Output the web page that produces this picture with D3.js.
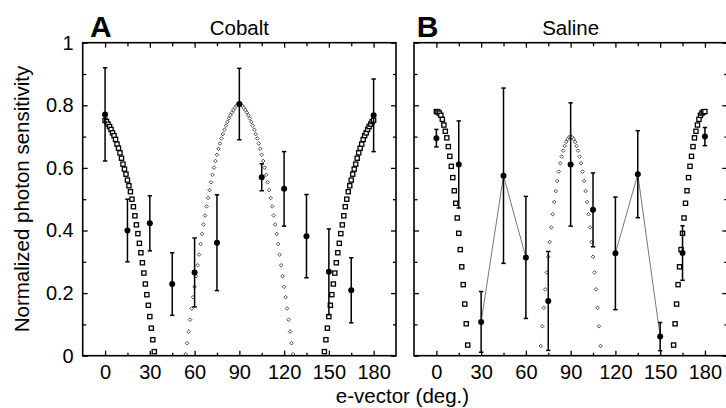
<!DOCTYPE html>
<html>
<head>
<meta charset="utf-8">
<script src="https://cdn.jsdelivr.net/npm/d3@7"></script>
<style>
  html, body { margin: 0; padding: 0; background: #fff; }
  svg { display: block; font-family: "Liberation Sans", Arial, Helvetica, sans-serif; }
</style>
</head>
<body>
<svg id="chart" width="726" height="408"></svg>
<script>
// ---------- data ----------
const angleLabels = [0, 30, 60, 90, 120, 150, 180];
const angleMinor = [15, 45, 75, 105, 135, 165];
const yMajor = [0, 0.2, 0.4, 0.6, 0.8, 1];
const yMinor = [0.1, 0.3, 0.5, 0.7, 0.9];
const yTickLabels = ["0", "0.2", "0.4", "0.6", "0.8", "1"];

const stimAngles = [0, 15, 30, 45, 60, 75, 90, 105, 120, 135, 150, 165, 180];

// Cobalt (panel A) measured sensitivity
const cobaltMean = [0.771, 0.400, 0.423, 0.229, 0.266, 0.361, 0.804, 0.570, 0.533, 0.382, 0.268, 0.209, 0.768];
const cobaltErr  = [0.149, 0.100, 0.088, 0.100, 0.110, 0.153, 0.114, 0.043, 0.119, 0.133, 0.137, 0.104, 0.116];

// Saline (panel B) measured sensitivity
const salineMean = [0.695, 0.611, 0.108, 0.575, 0.314, 0.175, 0.611, 0.466, 0.327, 0.580, 0.061, 0.328, 0.700];
const salineErr  = [0.028, 0.139, 0.097, 0.280, 0.195, 0.158, 0.197, 0.118, 0.180, 0.139, 0.045, 0.087, 0.029];
const salineLinks = [[30, 45, 60], [120, 135, 150]];

// Cobalt model: squares
const cobaltSqLeftAngles = [0,1,2,3,4,5,6,7,8,9,10,11,12,13,14,15,16,17,18,19,20,21,22,23,24,25,26,27,28,29,30,31,32,33];
const cobaltSqLeftValues = [0.752,0.748,0.740,0.732,0.723,0.712,0.703,0.691,0.676,0.663,0.648,0.631,0.612,0.596,0.580,0.561,0.543,0.524,0.500,0.476,0.447,0.418,0.390,0.359,0.329,0.297,0.264,0.229,0.195,0.161,0.125,0.088,0.051,0.013];
const cobaltSqRightAngles = [147,148,149,150,151,152,153,154,155,156,157,158,159,160,161,162,163,164,165,166,167,168,169,170,171,172,173,174,175,176,177,178,179,180];
const cobaltSqRightValues = [0.013,0.051,0.088,0.125,0.161,0.195,0.229,0.264,0.297,0.329,0.359,0.390,0.418,0.447,0.476,0.500,0.524,0.543,0.561,0.580,0.596,0.612,0.631,0.648,0.663,0.676,0.691,0.703,0.712,0.723,0.732,0.740,0.748,0.752];

// Cobalt model: diamonds
const cobaltDiaAngles = [54,55,56,57,58,59,60,61,62,63,64,65,66,67,68,69,70,71,72,73,74,75,76,77,78,79,80,81,82,83,84,85,86,87,88,89,90,91,92,93,94,95,96,97,98,99,100,101,102,103,104,105,106,107,108,109,110,111,112,113,114,115,116,117,118,119,120,121,122,123,124,125,126];
const cobaltDiaValues = [0.005,0.040,0.077,0.115,0.151,0.187,0.220,0.254,0.289,0.323,0.357,0.389,0.419,0.448,0.477,0.504,0.529,0.554,0.578,0.601,0.622,0.642,0.661,0.678,0.694,0.708,0.722,0.735,0.747,0.758,0.768,0.777,0.785,0.792,0.798,0.803,0.806,0.803,0.798,0.792,0.785,0.777,0.768,0.758,0.747,0.735,0.722,0.708,0.694,0.678,0.661,0.642,0.622,0.601,0.578,0.554,0.529,0.504,0.477,0.448,0.419,0.389,0.357,0.323,0.289,0.254,0.220,0.187,0.151,0.115,0.077,0.040,0.005];

// Saline model: squares
const salineSqLeftAngles = [0,1,2,3,4,5,6,7,8,9,10,11,12,13,14,15,16,17,18,19,20,21];
const salineSqLeftValues = [0.780,0.779,0.775,0.768,0.755,0.737,0.717,0.696,0.668,0.637,0.605,0.569,0.527,0.487,0.440,0.391,0.339,0.284,0.227,0.165,0.102,0.034];
const salineSqRightAngles = [159,160,161,162,163,164,165,166,167,168,169,170,171,172,173,174,175,176,177,178,179,180];
const salineSqRightValues = [0.034,0.102,0.165,0.227,0.284,0.339,0.391,0.440,0.487,0.527,0.569,0.605,0.637,0.668,0.696,0.717,0.737,0.755,0.768,0.775,0.779,0.780];

// Saline model: diamonds
const salineDiaAngles = [70,71,72,73,74,75,76,77,78,79,80,81,82,83,84,85,86,87,88,89,90,91,92,93,94,95,96,97,98,99,100,101,102,103,104,105,106,107,108,109,110];
const salineDiaValues = [0.031,0.094,0.153,0.212,0.266,0.316,0.363,0.410,0.452,0.491,0.526,0.558,0.588,0.615,0.636,0.655,0.670,0.683,0.692,0.698,0.700,0.698,0.692,0.683,0.670,0.655,0.636,0.615,0.588,0.558,0.526,0.491,0.452,0.410,0.363,0.316,0.266,0.212,0.153,0.094,0.031];

// ---------- layout ----------
const svg = d3.select("#chart");
const yTop = 42.7, yBot = 355.7;
const y = d3.scaleLinear().domain([0, 1]).range([yBot, yTop]);

const panels = [
  { key: "A", title: "Cobalt", x0: 82.7, x1: 396, letterX: 90, showY: true,
    mean: cobaltMean, err: cobaltErr, links: [],
    squares: [[cobaltSqLeftAngles, cobaltSqLeftValues], [cobaltSqRightAngles, cobaltSqRightValues]],
    diamonds: [[cobaltDiaAngles, cobaltDiaValues]] },
  { key: "B", title: "Saline", x0: 414, x1: 727.3, letterX: 416.7, showY: false,
    mean: salineMean, err: salineErr, links: salineLinks,
    squares: [[salineSqLeftAngles, salineSqLeftValues], [salineSqRightAngles, salineSqRightValues]],
    diamonds: [[salineDiaAngles, salineDiaValues]] }
];

const fontTick = 20;

panels.forEach(p => {
  const x = d3.scaleLinear().domain([-15, 195]).range([p.x0, p.x1]);
  const g = svg.append("g");

  // model squares
  p.squares.forEach(([angs, vals]) => {
    g.append("g").selectAll("rect").data(angs.map((a, i) => [a, vals[i]])).join("rect")
      .attr("x", d => x(d[0]) - 2.1).attr("y", d => y(d[1]) - 2.1)
      .attr("width", 4.2).attr("height", 4.2)
      .attr("fill", "#fff").attr("stroke", "#000").attr("stroke-width", 1.3);
  });
  // model diamonds
  p.diamonds.forEach(([angs, vals]) => {
    g.append("g").selectAll("path").data(angs.map((a, i) => [a, vals[i]])).join("path")
      .attr("d", d => {
        const cx = x(d[0]), cy = y(d[1]), r = 1.8;
        return `M${cx},${cy - r}L${cx + r},${cy}L${cx},${cy + r}L${cx - r},${cy}Z`;
      })
      .attr("fill", "#fff").attr("stroke", "#333").attr("stroke-width", 0.85);
  });

  // connecting lines
  p.links.forEach(grp => {
    const pts = grp.map(a => [a, p.mean[stimAngles.indexOf(a)]]);
    g.append("path")
      .attr("d", d3.line().x(d => x(d[0])).y(d => y(d[1]))(pts))
      .attr("fill", "none").attr("stroke", "#777").attr("stroke-width", 1);
  });

  // error bars
  const eb = g.append("g").attr("stroke", "#000").attr("stroke-width", 1.5);
  stimAngles.forEach((a, i) => {
    const m = p.mean[i], e = p.err[i];
    const cx = x(a);
    eb.append("line").attr("x1", cx).attr("x2", cx).attr("y1", y(m + e)).attr("y2", y(Math.max(0, m - e)));
    eb.append("line").attr("x1", cx - 2.2).attr("x2", cx + 2.2).attr("y1", y(m + e)).attr("y2", y(m + e));
    eb.append("line").attr("x1", cx - 2.2).attr("x2", cx + 2.2).attr("y1", y(Math.max(0, m - e))).attr("y2", y(Math.max(0, m - e)));
  });
  // points
  g.append("g").selectAll("circle").data(stimAngles.map((a, i) => [a, p.mean[i]])).join("circle")
    .attr("cx", d => x(d[0])).attr("cy", d => y(d[1])).attr("r", 3).attr("fill", "#000");

  // axes (inward ticks)
  const bottom = svg.append("g").attr("transform", `translate(0,${yBot})`)
    .call(d3.axisBottom(x).tickValues(angleLabels).tickSize(-5).tickPadding(6).tickFormat(d3.format("d")));
  bottom.select(".domain").remove();
  bottom.selectAll("text").attr("y", 23).attr("dy", 0).attr("font-size", fontTick).attr("font-family", null);
  svg.append("g").attr("transform", `translate(0,${yBot})`)
    .call(d3.axisBottom(x).tickValues(angleMinor).tickSize(-3).tickFormat(""))
    .select(".domain").remove();
  const top = svg.append("g").attr("transform", `translate(0,${yTop})`)
    .call(d3.axisTop(x).tickValues(angleLabels).tickSize(-5).tickFormat(""));
  top.select(".domain").remove();
  svg.append("g").attr("transform", `translate(0,${yTop})`)
    .call(d3.axisTop(x).tickValues(angleMinor).tickSize(-3.5).tickFormat(""))
    .select(".domain").remove();

  const left = svg.append("g").attr("transform", `translate(${p.x0},0)`)
    .call(d3.axisLeft(y).tickValues(yMajor).tickSize(-5).tickPadding(9)
      .tickFormat((d, i) => p.showY ? yTickLabels[i] : ""));
  left.select(".domain").remove();
  left.selectAll("text").attr("font-size", fontTick).attr("font-family", null);
  svg.append("g").attr("transform", `translate(${p.x0},0)`)
    .call(d3.axisLeft(y).tickValues(yMinor).tickSize(-3.5).tickFormat(""))
    .select(".domain").remove();
  svg.append("g").attr("transform", `translate(${p.x1},0)`)
    .call(d3.axisRight(y).tickValues(yMajor).tickSize(-5).tickFormat(""))
    .select(".domain").remove();
  svg.append("g").attr("transform", `translate(${p.x1},0)`)
    .call(d3.axisRight(y).tickValues(yMinor).tickSize(-3).tickFormat(""))
    .select(".domain").remove();

  svg.selectAll(".tick line").attr("stroke-width", 1.3);

  // frame
  svg.append("rect").attr("x", p.x0).attr("y", yTop)
    .attr("width", p.x1 - p.x0).attr("height", yBot - yTop)
    .attr("fill", "none").attr("stroke", "#000").attr("stroke-width", 1.6);

  // titles
  svg.append("text").attr("x", x(90)).attr("y", 35).attr("text-anchor", "middle")
    .attr("font-size", 20.5).text(p.title);
  svg.append("text").attr("x", p.letterX).attr("y", 36.7)
    .attr("font-size", 30).attr("font-weight", "bold").text(p.key);
});

// axis titles
svg.append("text").attr("transform", "translate(29,199) rotate(-90)")
  .attr("text-anchor", "middle").attr("font-size", 20.5).text("Normalized photon sensitivity");
svg.append("text").attr("x", 402.5).attr("y", 402.5).attr("text-anchor", "middle")
  .attr("font-size", 20.5).text("e-vector (deg.)");
</script>
</body>
</html>
